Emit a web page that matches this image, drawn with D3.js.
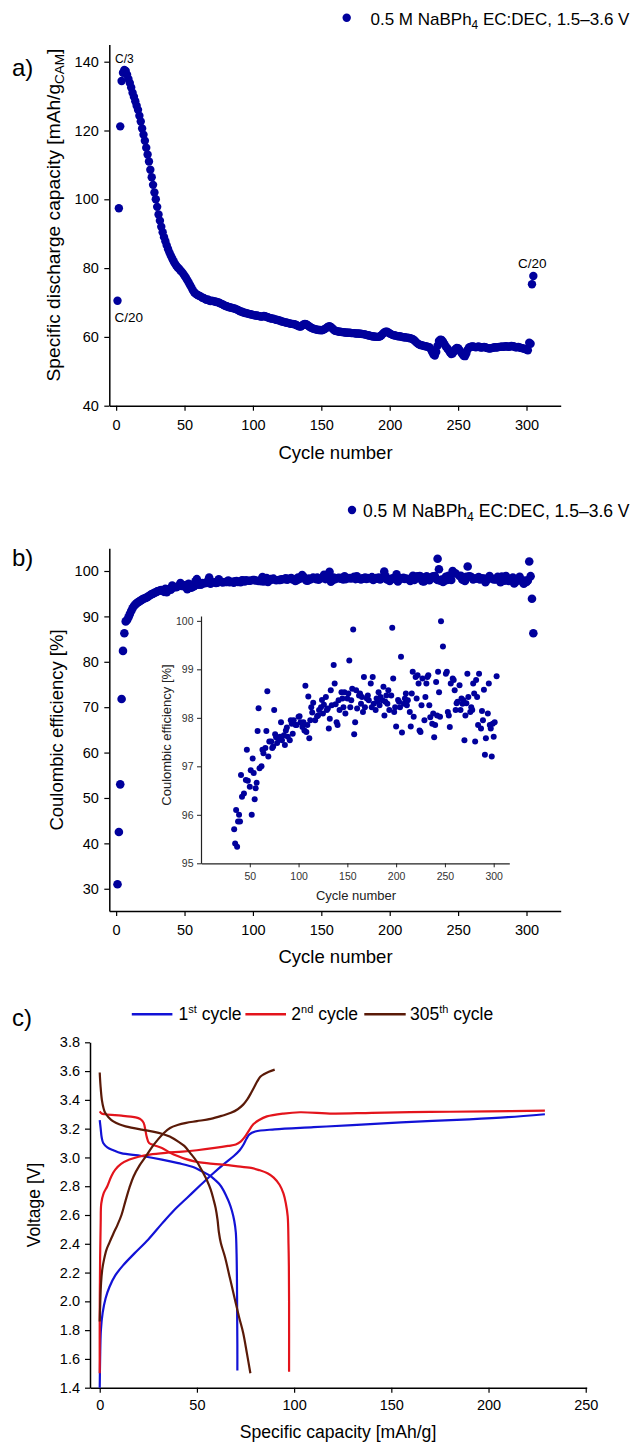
<!DOCTYPE html>
<html>
<head>
<meta charset="utf-8">
<script src="https://cdn.jsdelivr.net/npm/d3@7"></script>
<style>
  body { margin: 0; background: #fff; }
  svg { display: block; font-family: "Liberation Sans", Arial, sans-serif; }
  text { white-space: pre; }
</style>
</head>
<body>
<svg id="chart" width="636" height="1442"></svg>
<script>
// a) specific discharge capacity, one value per cycle (cycle = index + 1)
const capacity = [
  70.5, 97.4, 121.2, 134.4, 136.8, 137.6, 137.3, 136.2, 135.0, 133.8,
  132.5, 131.0, 129.8, 128.5, 127.2, 126.0, 124.3, 122.6, 120.6, 118.8,
  117.0, 115.0, 113.0, 111.0, 108.6, 106.4, 104.2, 102.0, 100.0, 97.8,
  95.6, 93.8, 92.0, 90.4, 89.0, 87.8, 86.6, 85.5, 84.5, 83.6,
  82.8, 82.0, 81.3, 80.7, 80.2, 79.8, 79.3, 78.9, 78.4, 77.8,
  77.2, 76.5, 75.8, 75.1, 74.4, 73.6, 73.0, 72.6, 72.3, 72.1,
  71.9, 71.7, 71.4, 71.3, 71.0, 70.8, 70.9, 70.6, 70.4, 70.5,
  70.4, 70.3, 70.2, 70.1, 70.0, 69.8, 69.6, 69.4, 69.2, 69.0,
  68.9, 68.7, 68.6, 68.5, 68.4, 68.3, 68.2, 68.0, 67.8, 67.6,
  67.4, 67.3, 67.1, 67.0, 66.9, 66.8, 66.7, 66.6, 66.5, 66.4,
  66.3, 66.2, 66.2, 66.1, 66.0, 65.9, 65.9, 66.1, 66.0, 65.8,
  65.7, 65.5, 65.4, 65.3, 65.3, 65.1, 65.0, 64.9, 64.8, 64.7,
  64.5, 64.4, 64.3, 64.2, 64.1, 64.0, 63.9, 63.8, 63.8, 63.7,
  63.6, 63.4, 63.2, 63.0, 63.0, 63.3, 63.6, 63.8, 63.7, 63.4,
  63.1, 62.8, 62.6, 62.4, 62.3, 62.2, 62.1, 62.0, 62.0, 61.9,
  62.0, 62.2, 62.4, 62.7, 63.0, 63.1, 62.9, 62.5, 62.1, 61.8,
  61.7, 61.6, 61.5, 61.5, 61.4, 61.4, 61.3, 61.3, 61.2, 61.2,
  61.2, 61.1, 61.1, 61.1, 61.0, 61.0, 61.0, 60.9, 60.9, 60.8,
  60.8, 60.7, 60.6, 60.5, 60.4, 60.3, 60.2, 60.1, 60.1, 60.0,
  60.0, 60.0, 60.2, 60.5, 60.9, 61.3, 61.5, 61.5, 61.3, 61.0,
  60.8, 60.6, 60.5, 60.4, 60.3, 60.2, 60.2, 60.1, 60.0, 59.9,
  59.9, 59.8, 59.8, 59.7, 59.6, 59.5, 59.3, 59.0, 58.6, 58.2,
  57.9, 57.7, 57.6, 57.5, 57.4, 57.3, 57.2, 57.1, 57.0, 56.4,
  55.6, 54.9, 54.6, 55.6, 57.4, 58.8, 59.2, 59.1, 58.6, 57.9,
  57.2, 56.7, 56.2, 55.5, 55.0, 55.2, 55.8, 56.4, 56.8, 56.7,
  56.2, 55.6, 55.0, 54.5, 54.4, 55.2, 56.3, 56.9, 57.1, 57.2,
  57.2, 57.1, 57.0, 57.1, 57.2, 57.0, 56.9, 57.0, 57.1, 57.0,
  56.8, 56.7, 56.6, 56.7, 56.8, 56.9, 57.0, 56.9, 57.0, 57.1,
  57.1, 57.2, 57.1, 57.2, 57.3, 57.2, 57.1, 57.2, 57.4, 57.3,
  57.2, 57.0, 57.0, 57.1, 56.9, 56.8, 56.7, 56.6, 56.5, 56.3,
  56.1, 58.3, 58.0, 75.3, 77.7
];

// b) coulombic efficiency, first cycles (cycle = index + 1)
const ceFirst = [
  31.0, 42.5, 53.0, 71.8, 82.4, 86.3, 88.9, 89.2, 89.8, 90.5,
  91.2, 91.8, 92.3, 92.6, 92.9, 93.1, 93.3, 93.5, 93.7, 93.9,
  94.0, 94.1, 94.3, 94.5, 94.7, 94.9, 95.0, 95.2, 95.3, 95.5,
  95.6, 95.7, 95.8
];

// b) coulombic efficiency [cycle, %] from cycle 34 on (also shown in the inset)
const ceCycles = [
  [34,95.70],[35,95.41],[36,96.10],[37,95.34],[38,95.86],[39,96.00],[40,95.86],[41,96.82],[42,96.37],[44,96.44],
  [46,96.72],[47,97.34],[48,96.70],[50,96.58],[51,96.92],[52,96.00],[53,97.16],[54,96.86],[55,96.32],[56,96.55],
  [57,96.66],[58,97.73],[59,98.20],[60,96.96],[62,97.00],[63,97.34],[64,97.27],[66,97.38],[67,97.73],[68,98.55],
  [69,97.20],[70,97.51],[72,97.51],[73,97.38],[74,97.41],[75,98.16],[76,97.66],[77,97.60],[78,97.48],[80,97.56],
  [81,97.61],[82,97.91],[83,97.54],[85,97.64],[86,97.44],[87,97.74],[88,97.80],[89,97.61],[91,97.54],[92,97.95],
  [93,97.88],[94,97.67],[95,97.95],[97,97.85],[98,97.85],[100,98.02],[101,98.03],[102,97.91],[104,97.81],[105,97.91],
  [106,97.74],[107,98.66],[108,97.71],[109,97.85],[110,98.44],[111,97.58],[112,97.95],[113,98.22],[114,98.11],[115,98.31],
  [117,97.95],[119,98.03],[120,98.05],[121,98.16],[123,98.22],[124,98.37],[125,98.09],[126,98.27],[128,98.43],[129,98.16],
  [130,98.19],[131,97.78],[132,97.98],[133,98.57],[134,98.26],[136,99.09],[137,98.71],[138,98.28],[139,97.91],[140,97.85],
  [141,98.36],[142,98.16],[144,98.53],[145,98.40],[146,98.22],[147,98.53],[148,98.09],[150,98.40],[151,98.50],[152,99.18],
  [153,98.22],[154,98.36],[155,98.60],[156,99.82],[157,97.66],[158,97.91],[159,98.57],[160,98.19],[162,98.46],[163,98.50],
  [164,98.29],[165,98.43],[166,98.12],[167,98.84],[168,98.22],[170,98.40],[171,98.46],[172,98.36],[174,98.71],[175,98.22],
  [176,98.84],[177,98.29],[179,98.16],[180,98.40],[181,98.33],[182,98.53],[183,98.26],[184,98.43],[186,98.36],[187,98.64],
  [188,98.05],[189,98.33],[190,98.46],[191,98.29],[192,98.57],[193,98.16],[195,98.46],[196,99.86],[197,98.81],[198,98.12],
  [199,98.22],[200,97.82],[202,98.37],[203,98.33],[204,98.22],[205,99.26],[206,97.70],[208,98.29],[209,98.40],[210,98.50],
  [211,98.26],[212,98.36],[214,98.12],[215,97.82],[216,98.50],[217,98.95],[218,98.02],[220,98.84],[221,98.40],[222,98.88],
  [223,98.71],[224,97.74],[225,97.71],[226,98.26],[227,98.81],[229,97.95],[230,98.43],[231,98.71],[232,98.84],[233,98.88],
  [234,98.26],[235,98.01],[237,97.88],[238,98.09],[239,97.60],[240,97.85],[241,98.74],[242,98.05],[243,98.95],[244,98.53],
  [245,98.02],[246,99.99],[248,99.47],[251,98.91],[252,98.95],[253,98.12],[254,98.05],[255,97.81],[256,98.71],[258,98.81],
  [259,98.78],[260,98.57],[261,98.16],[262,98.30],[263,98.33],[265,98.67],[266,98.16],[267,98.40],[268,98.29],[269,98.36],
  [270,97.54],[271,98.05],[272,98.30],[273,98.91],[274,98.43],[276,98.12],[277,98.22],[278,98.16],[279,98.71],[280,98.50],
  [281,97.51],[282,98.78],[283,98.43],[284,97.85],[285,98.91],[287,97.78],[288,98.14],[289,97.95],[290,98.58],[291,97.24],
  [292,97.58],[294,98.09],[295,98.71],[296,97.85],[297,97.78],[298,97.20],[299,97.88],[300,97.61],[301,97.91],[303,98.86]
];

// b) points outside the inset range
const ceHigh = [[235,102.7],[236,100.4],[257,101.0],[302,102.1],[304,93.9],[305,86.3]];

// c) voltage profiles [mAh/g, V]
const cycle1Charge = [[0,1.40],[0.2,1.6],[0.6,1.8],[1.5,1.92],[3,2.02],[5,2.10],[8,2.18],[12,2.25],[18,2.335],[25,2.43],
  [32,2.54],[38,2.63],[45,2.72],[52,2.81],[58,2.885],[64,2.955],[69,3.01],[72,3.05],[74,3.09],[75.5,3.13],[77,3.16],
  [80,3.18],[90,3.195],[110,3.21],[130,3.225],[155,3.244],[190,3.265],[210,3.28],[229,3.30]];
const cycle1Discharge = [[0,3.26],[0.5,3.2],[1,3.14],[1.8,3.10],[3.9,3.07],[7,3.05],[11,3.03],[21.6,3.01],[32,2.985],
  [40.4,2.96],[48.7,2.93],[53,2.90],[56.5,2.875],[59.2,2.845],[61.5,2.815],[63.3,2.78],[65,2.735],[66.5,2.69],[68,2.63],
  [69.2,2.56],[70,2.48],[70.4,2.33],[70.6,2.13],[70.7,1.9],[70.8,1.7],[70.8,1.52]];
const cycle2Charge = [[0,1.5],[0,1.9],[0.2,2.3],[0.5,2.55],[0.8,2.68],[2,2.75],[3.9,2.80],[6,2.87],[8,2.915],[11,2.955],
  [15.3,2.985],[20,3.005],[25.7,3.02],[34,3.032],[42.5,3.04],[50,3.05],[59.2,3.066],[66,3.08],[70,3.09],[72.5,3.11],
  [74.5,3.14],[76,3.17],[79,3.23],[82,3.26],[86,3.285],[94.6,3.305],[103,3.314],[120,3.305],[140,3.31],[170,3.316],
  [200,3.32],[229,3.325]];
const cycle2Discharge = [[0,3.32],[1,3.305],[2.8,3.30],[11.2,3.29],[16,3.283],[19.5,3.275],[21.5,3.26],[22.6,3.24],
  [23.5,3.19],[24.1,3.147],[25.4,3.10],[28,3.085],[32,3.066],[36,3.035],[40.4,3.008],[44,2.99],[48.7,2.973],[55,2.96],
  [63.3,2.95],[70,2.94],[77.9,2.927],[82,2.912],[86.3,2.89],[89.5,2.86],[92.5,2.81],[94.5,2.75],[95.7,2.683],
  [96.7,2.59],[97.1,2.4],[97.3,2.24],[97.4,2.0],[97.4,1.51]];
const cycle305Charge = [[0,1.86],[0.3,2.0],[0.7,2.13],[1.3,2.22],[2.2,2.29],[3.5,2.36],[4.9,2.405],[7,2.47],[9.1,2.53],
  [11.2,2.60],[13.3,2.70],[15.3,2.79],[17.4,2.868],[20.5,2.945],[23.7,3.007],[26.8,3.07],[29.9,3.124],[33,3.17],
  [36.2,3.205],[40,3.225],[44.5,3.24],[50,3.252],[57.1,3.268],[63,3.29],[67.5,3.31],[71,3.335],[73.8,3.367],[76,3.405],
  [77.9,3.449],[79.5,3.49],[81.1,3.53],[82.6,3.56],[84.2,3.576],[87,3.595],[90,3.61]];
const cycle305Discharge = [[0,3.59],[0.4,3.5],[1.1,3.40],[2,3.34],[2.8,3.31],[4.5,3.28],[7,3.25],[10,3.23],[13.3,3.216],
  [21.6,3.193],[28,3.178],[32,3.165],[36,3.145],[40.4,3.11],[43.5,3.08],[46.6,3.03],[50,2.97],[52.9,2.90],[55.2,2.84],
  [57.1,2.776],[58.5,2.71],[59.6,2.65],[60.6,2.567],[61.3,2.48],[62.3,2.405],[64.4,2.31],[67,2.16],[69.6,2.01],
  [71.7,1.89],[73.8,1.78],[75.7,1.64],[77.5,1.50]];

const cycleTicks = [0, 50, 100, 150, 200, 250, 300];
const cycleMinor = [25, 75, 125, 175, 225, 275, 325];

const svg = d3.select("#chart");
const navy = "#00009c";
const seriesColor = { c1: "#1212d6", c2: "#e3141c", c305: "#5a1a08" };

svg.append("rect").attr("width", 636).attr("height", 1442).attr("fill", "#fff");

// draws left + bottom axes with outward major/minor ticks
function drawAxes(g, x, y, o) {
  const bottom = y.range()[0], left = x.range()[0];
  const xg = g.append("g").attr("transform", `translate(0,${bottom})`);
  xg.call(d3.axisBottom(x).tickValues(o.xMinor).tickSize(o.minor).tickSizeOuter(0).tickFormat(""))
    .call(s => s.select(".domain").remove());
  xg.call(d3.axisBottom(x).tickValues(o.xMajor).tickSize(o.major).tickSizeOuter(0)
      .tickPadding(o.xPad).tickFormat(o.xFmt || d3.format("d")));
  const yg = g.append("g").attr("transform", `translate(${left},0)`);
  yg.call(d3.axisLeft(y).tickValues(o.yMinor).tickSize(o.minor).tickSizeOuter(0).tickFormat(""))
    .call(s => s.select(".domain").remove());
  yg.call(d3.axisLeft(y).tickValues(o.yMajor).tickSize(o.major).tickSizeOuter(0)
      .tickPadding(o.yPad).tickFormat(o.yFmt || d3.format("d")));
  [xg, yg].forEach(a => {
    a.attr("font-family", null).attr("font-size", o.font);
    a.selectAll("line").attr("stroke", o.color).attr("stroke-width", o.tickWidth);
    a.selectAll(".domain").attr("stroke", o.color).attr("stroke-width", o.axisWidth);
    a.selectAll("text").attr("fill", o.textColor || "#000");
  });
}

function label(g, txt, x, y, size, rotate) {
  return g.append("text")
    .attr("transform", `translate(${x},${y})` + (rotate ? " rotate(-90)" : ""))
    .attr("text-anchor", "middle").attr("font-size", size).text(txt);
}

// ---------- panel a ----------
const ga = svg.append("g");
const xa = d3.scaleLinear().domain([-5, 325]).range([109.3, 560.7]);
const ya = d3.scaleLinear().domain([40, 145]).range([405.7, 44.5]);

drawAxes(ga, xa, ya, {
  xMajor: cycleTicks, xMinor: cycleMinor,
  yMajor: [40, 60, 80, 100, 120, 140], yMinor: [50, 70, 90, 110, 130],
  major: 5, minor: 3, xPad: 9, yPad: 5.5, font: 14.5, tickWidth: 1.2, axisWidth: 1.5, color: "#000"
});

ga.append("g").selectAll("circle")
  .data(capacity)
  .join("circle")
  .attr("cx", (d, i) => xa(i + 1))
  .attr("cy", d => ya(d))
  .attr("r", 4.2)
  .attr("fill", navy);

ga.append("text").attr("x", 12).attr("y", 76).attr("font-size", 24).text("a)");
ga.append("text").attr("x", 115).attr("y", 63).attr("font-size", 12).text("C/3");
ga.append("text").attr("x", 114.5).attr("y", 321.5).attr("font-size", 13.5).text("C/20");
ga.append("text").attr("x", 518).attr("y", 268).attr("font-size", 13.5).text("C/20");
label(ga, "Cycle number", 335.5, 458.5, 18.5);

const yla = ga.append("text")
  .attr("transform", "translate(59.5,215) rotate(-90)")
  .attr("text-anchor", "middle").attr("font-size", 19.2);
yla.append("tspan").text("Specific discharge capacity [mAh/g");
yla.append("tspan").attr("font-size", 13.5).attr("dy", 4).text("CAM");
yla.append("tspan").attr("dy", -4).text("]");

function legendDot(g, cx, cy, tx, ty, size) {
  g.append("circle").attr("cx", cx).attr("cy", cy).attr("r", 4.2).attr("fill", navy);
  const t = g.append("text").attr("x", tx).attr("y", ty).attr("font-size", size);
  t.append("tspan").text("0.5 M NaBPh");
  t.append("tspan").attr("font-size", size * 0.7).attr("dy", 4).text("4");
  t.append("tspan").attr("dy", -4).text(" EC:DEC, 1.5\u20133.6 V");
}
legendDot(ga, 346.7, 17.7, 370.5, 24.5, 17);

// ---------- panel b ----------
const gb = svg.append("g");
const xb = d3.scaleLinear().domain([-5, 325]).range([109.3, 560.7]);
const yb = d3.scaleLinear().domain([25.1, 105]).range([911, 548.3]);

drawAxes(gb, xb, yb, {
  xMajor: cycleTicks, xMinor: cycleMinor,
  yMajor: [30, 40, 50, 60, 70, 80, 90, 100], yMinor: [35, 45, 55, 65, 75, 85, 95],
  major: 5, minor: 3, xPad: 9, yPad: 5.5, font: 14.5, tickWidth: 1.2, axisWidth: 1.5, color: "#000"
});

const ceAll = ceFirst.map((v, i) => [i + 1, v]).concat(ceCycles, ceHigh);
gb.append("g").selectAll("circle")
  .data(ceAll)
  .join("circle")
  .attr("cx", d => xb(d[0]))
  .attr("cy", d => yb(d[1]))
  .attr("r", 4.3)
  .attr("fill", navy);

gb.append("text").attr("x", 12).attr("y", 566).attr("font-size", 24).text("b)");
label(gb, "Cycle number", 335.5, 963, 18.5);
label(gb, "Coulombic efficiency [%]", 62.7, 730, 18.5, true);
legendDot(gb, 352, 510, 363, 517, 17.5);

// inset
const gi = svg.append("g");
const xi = d3.scaleLinear().domain([0, 316]).range([201, 509.3]);
const yi = d3.scaleLinear().domain([95, 100.1]).range([863.3, 616]);

drawAxes(gi, xi, yi, {
  xMajor: [50, 100, 150, 200, 250, 300], xMinor: [25, 75, 125, 175, 225, 275],
  yMajor: [95, 96, 97, 98, 99, 100], yMinor: [95.5, 96.5, 97.5, 98.5, 99.5],
  major: 4, minor: 2.5, xPad: 5, yPad: 3.5, font: 10.5, tickWidth: 1, axisWidth: 1.2,
  color: "#222", textColor: "#333"
});

gi.append("g").selectAll("circle")
  .data(ceCycles.filter(d => d[1] >= 95 && d[1] <= 100.1))
  .join("circle")
  .attr("cx", d => xi(d[0]))
  .attr("cy", d => yi(d[1]))
  .attr("r", 3)
  .attr("fill", navy);

label(gi, "Cycle number", 356, 900, 13).attr("fill", "#222");
label(gi, "Coulombic efficiency [%]", 171, 735, 13, true).attr("fill", "#222");

// ---------- panel c ----------
const gc = svg.append("g");
const xc = d3.scaleLinear().domain([-5, 250.5]).range([90, 586.7]);
const yc = d3.scaleLinear().domain([1.4, 3.8]).range([1387.7, 1042.3]);

drawAxes(gc, xc, yc, {
  xMajor: [0, 50, 100, 150, 200, 250], xMinor: [25, 75, 125, 175, 225],
  yMajor: d3.range(13).map(i => 1.4 + i * 0.2),
  yMinor: d3.range(12).map(i => 1.5 + i * 0.2),
  yFmt: d3.format(".1f"),
  major: 5, minor: 3, xPad: 7.5, yPad: 5, font: 14.5, tickWidth: 1.2, axisWidth: 1.5, color: "#000"
});

const line = d3.line().x(d => xc(d[0])).y(d => yc(d[1])).curve(d3.curveCatmullRom.alpha(0.5));
[
  [cycle1Charge, seriesColor.c1], [cycle1Discharge, seriesColor.c1],
  [cycle2Charge, seriesColor.c2], [cycle2Discharge, seriesColor.c2],
  [cycle305Charge, seriesColor.c305], [cycle305Discharge, seriesColor.c305]
].forEach(([pts, col]) => {
  gc.append("path").datum(pts).attr("d", line)
    .attr("fill", "none").attr("stroke", col).attr("stroke-width", 2.2);
});

gc.append("text").attr("x", 12).attr("y", 1026).attr("font-size", 24).text("c)");
label(gc, "Specific capacity [mAh/g]", 338, 1437.5, 17.6);
label(gc, "Voltage [V]", 40, 1205, 17.5, true);

const legendC = [
  { x1: 131.8, x2: 172.4, tx: 178.5, num: "1", sup: "st", color: seriesColor.c1 },
  { x1: 245.4, x2: 286, tx: 291.3, num: "2", sup: "nd", color: seriesColor.c2 },
  { x1: 364.3, x2: 405.7, tx: 410, num: "305", sup: "th", color: seriesColor.c305 }
];
legendC.forEach(l => {
  gc.append("line").attr("x1", l.x1).attr("x2", l.x2).attr("y1", 1014.3).attr("y2", 1014.3)
    .attr("stroke", l.color).attr("stroke-width", 2.5);
  const t = gc.append("text").attr("x", l.tx).attr("y", 1020).attr("font-size", 17.5);
  t.append("tspan").text(l.num);
  t.append("tspan").attr("font-size", 11).attr("dy", -7).text(l.sup);
  t.append("tspan").attr("dy", 7).text(" cycle");
});
</script>
</body>
</html>
